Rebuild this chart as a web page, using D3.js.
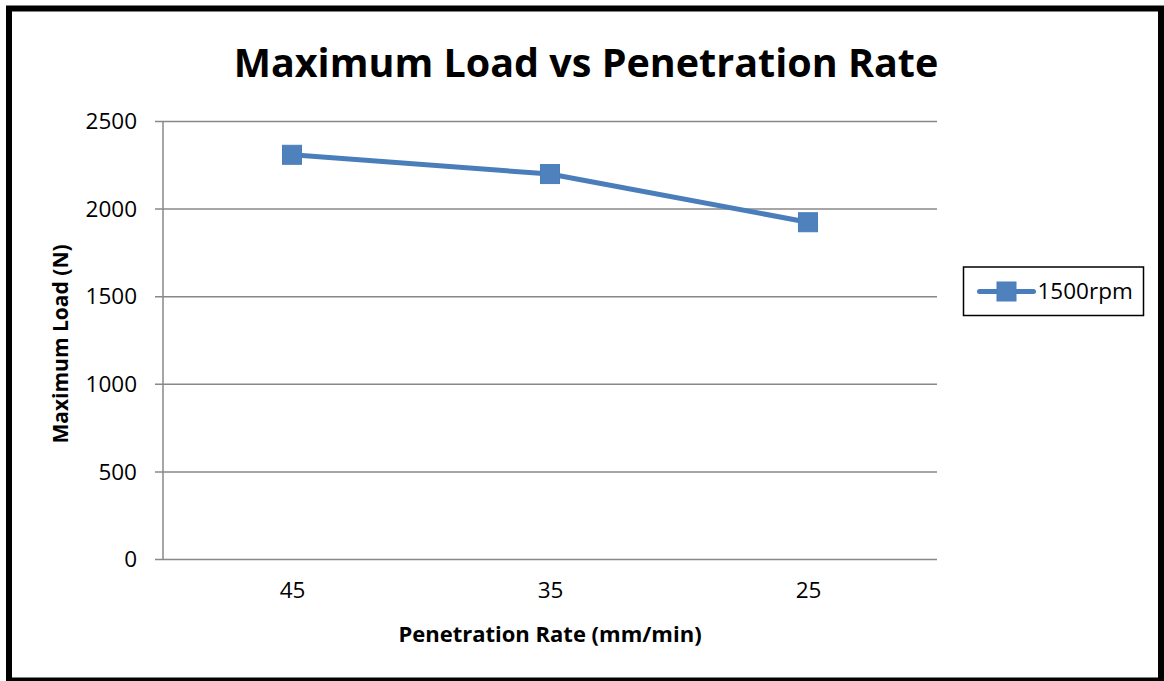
<!DOCTYPE html>
<html lang="en">
<head>
<meta charset="utf-8">
<title>Maximum Load vs Penetration Rate</title>
<script src="https://cdn.jsdelivr.net/npm/d3@7"></script>
<style>
  body { margin: 0; background: #fff; }
  text { font-family: "Open Sans", "Noto Sans", sans-serif; fill: #000; }
  .grid line { stroke: #888; stroke-width: 1.5; }
</style>
</head>
<body>
<script>
// data
var rates = ["45", "35", "25"];
var loads = [2310, 2200, 1925];
var seriesName = "1500rpm";
var yTicks = [0, 500, 1000, 1500, 2000, 2500];

var W = 1164, H = 681;
var pLeft = 163, pRight = 937, pTop = 121.5, pBottom = 559.5;
var blue = "#4a7ebb";

var svg = d3.select("body").append("svg")
  .attr("width", W)
  .attr("height", H)
  .style("display", "block");

// outer frame
svg.append("rect")
  .attr("x", 9).attr("y", 8.5)
  .attr("width", 1152).attr("height", 672)
  .attr("fill", "none")
  .attr("stroke", "#000")
  .attr("stroke-width", 6);

svg.append("text")
  .attr("x", 586).attr("y", 77)
  .attr("text-anchor", "middle")
  .attr("font-size", 39.5)
  .attr("font-weight", "bold")
  .text("Maximum Load vs Penetration Rate");

var x = d3.scalePoint()
  .domain(rates)
  .range([pLeft, pRight])
  .padding(0.5);

var y = d3.scaleLinear()
  .domain([0, 2500])
  .range([pBottom, pTop]);

// gridlines
svg.append("g")
  .attr("class", "grid")
  .selectAll("line")
  .data(yTicks)
  .enter()
  .append("line")
  .attr("x1", pLeft - 8).attr("x2", pRight)
  .attr("y1", function(d) { return y(d); })
  .attr("y2", function(d) { return y(d); });

// y axis line
svg.append("line")
  .attr("x1", pLeft).attr("x2", pLeft)
  .attr("y1", pTop).attr("y2", pBottom)
  .attr("stroke", "#888").attr("stroke-width", 1.5);

var yAxis = d3.axisLeft(y).tickValues(yTicks).tickFormat(d3.format("d")).tickSize(0).tickPadding(26);
svg.append("g")
  .attr("transform", "translate(" + pLeft + ",0)")
  .call(yAxis)
  .call(function(g) { g.select(".domain").remove(); })
  .selectAll("text")
  .attr("font-size", 22.5)
  .attr("font-family", "'Open Sans', sans-serif")
  .attr("fill", "#000");

var xAxis = d3.axisBottom(x).tickSize(0).tickPadding(23);
svg.append("g")
  .attr("transform", "translate(0," + pBottom + ")")
  .call(xAxis)
  .call(function(g) { g.select(".domain").remove(); })
  .selectAll("text")
  .attr("font-size", 22.5)
  .attr("font-family", "'Open Sans', sans-serif")
  .attr("fill", "#000");

// axis titles
svg.append("text")
  .attr("x", 550).attr("y", 642)
  .attr("text-anchor", "middle")
  .attr("font-size", 22)
  .attr("font-weight", "bold")
  .text("Penetration Rate (mm/min)");

svg.append("text")
  .attr("transform", "translate(68,344) rotate(-90)")
  .attr("text-anchor", "middle")
  .attr("font-size", 21)
  .attr("font-weight", "bold")
  .text("Maximum Load (N)");

// series line
var line = d3.line()
  .x(function(d, i) { return x(rates[i]); })
  .y(function(d) { return y(d); });

svg.append("path")
  .datum(loads)
  .attr("d", line)
  .attr("fill", "none")
  .attr("stroke", blue)
  .attr("stroke-width", 5)
  .attr("stroke-linejoin", "round");

var ms = 19;
svg.selectAll("rect.marker")
  .data(loads)
  .enter()
  .append("rect")
  .attr("class", "marker")
  .attr("x", function(d, i) { return x(rates[i]) - ms / 2; })
  .attr("y", function(d) { return y(d) - ms / 2; })
  .attr("width", ms).attr("height", ms)
  .attr("fill", "#4f81bd")
  .attr("stroke", blue)
  .attr("stroke-width", 1);

// legend
var lg = svg.append("g").attr("transform", "translate(963.5,267)");
lg.append("rect")
  .attr("width", 180).attr("height", 48.5)
  .attr("fill", "#fff")
  .attr("stroke", "#000")
  .attr("stroke-width", 1.5);
lg.append("line")
  .attr("x1", 16).attr("x2", 70)
  .attr("y1", 24.5).attr("y2", 24.5)
  .attr("stroke", blue).attr("stroke-width", 5)
  .attr("stroke-linecap", "round");
lg.append("rect")
  .attr("x", 43 - ms / 2).attr("y", 24.5 - ms / 2)
  .attr("width", ms).attr("height", ms)
  .attr("fill", "#4f81bd").attr("stroke", blue);
lg.append("text")
  .attr("x", 74).attr("y", 32)
  .attr("font-size", 22.5)
  .text(seriesName);
</script>
</body>
</html>
